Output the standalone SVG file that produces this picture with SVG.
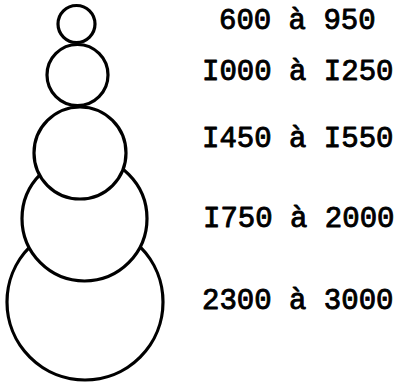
<svg xmlns="http://www.w3.org/2000/svg" width="397" height="383" viewBox="0 0 397 383">
<style>
.c{fill:#fff;stroke:#000;stroke-width:3.2}
.t{font-family:"Liberation Mono","Courier New",monospace;font-size:29px;fill:#000;stroke:#000;stroke-width:0.9;stroke-linejoin:round}
</style>
<rect width="397" height="383" fill="#fff"/>
<g id="circles">
<g id="c5"><circle class="c" cx="85" cy="302" r="78"/></g>
<g id="c4"><circle class="c" cx="84.5" cy="218.5" r="62.5"/></g>
<g id="c3"><circle class="c" cx="80" cy="153" r="46"/></g>
<g id="c2"><circle class="c" cx="77.5" cy="75" r="30.5"/></g>
<g id="c1"><circle class="c" cx="76.5" cy="24" r="18.5"/></g>
</g>
<g id="labels">
<text class="t" x="219" y="29">600 à 950</text>
<text class="t" x="202" y="80">I000 à I250</text>
<text class="t" x="202" y="147">I450 à I550</text>
<text class="t" x="203" y="227">I750 à 2000</text>
<text class="t" x="202" y="309">2300 à 3000</text>
</g>
</svg>
